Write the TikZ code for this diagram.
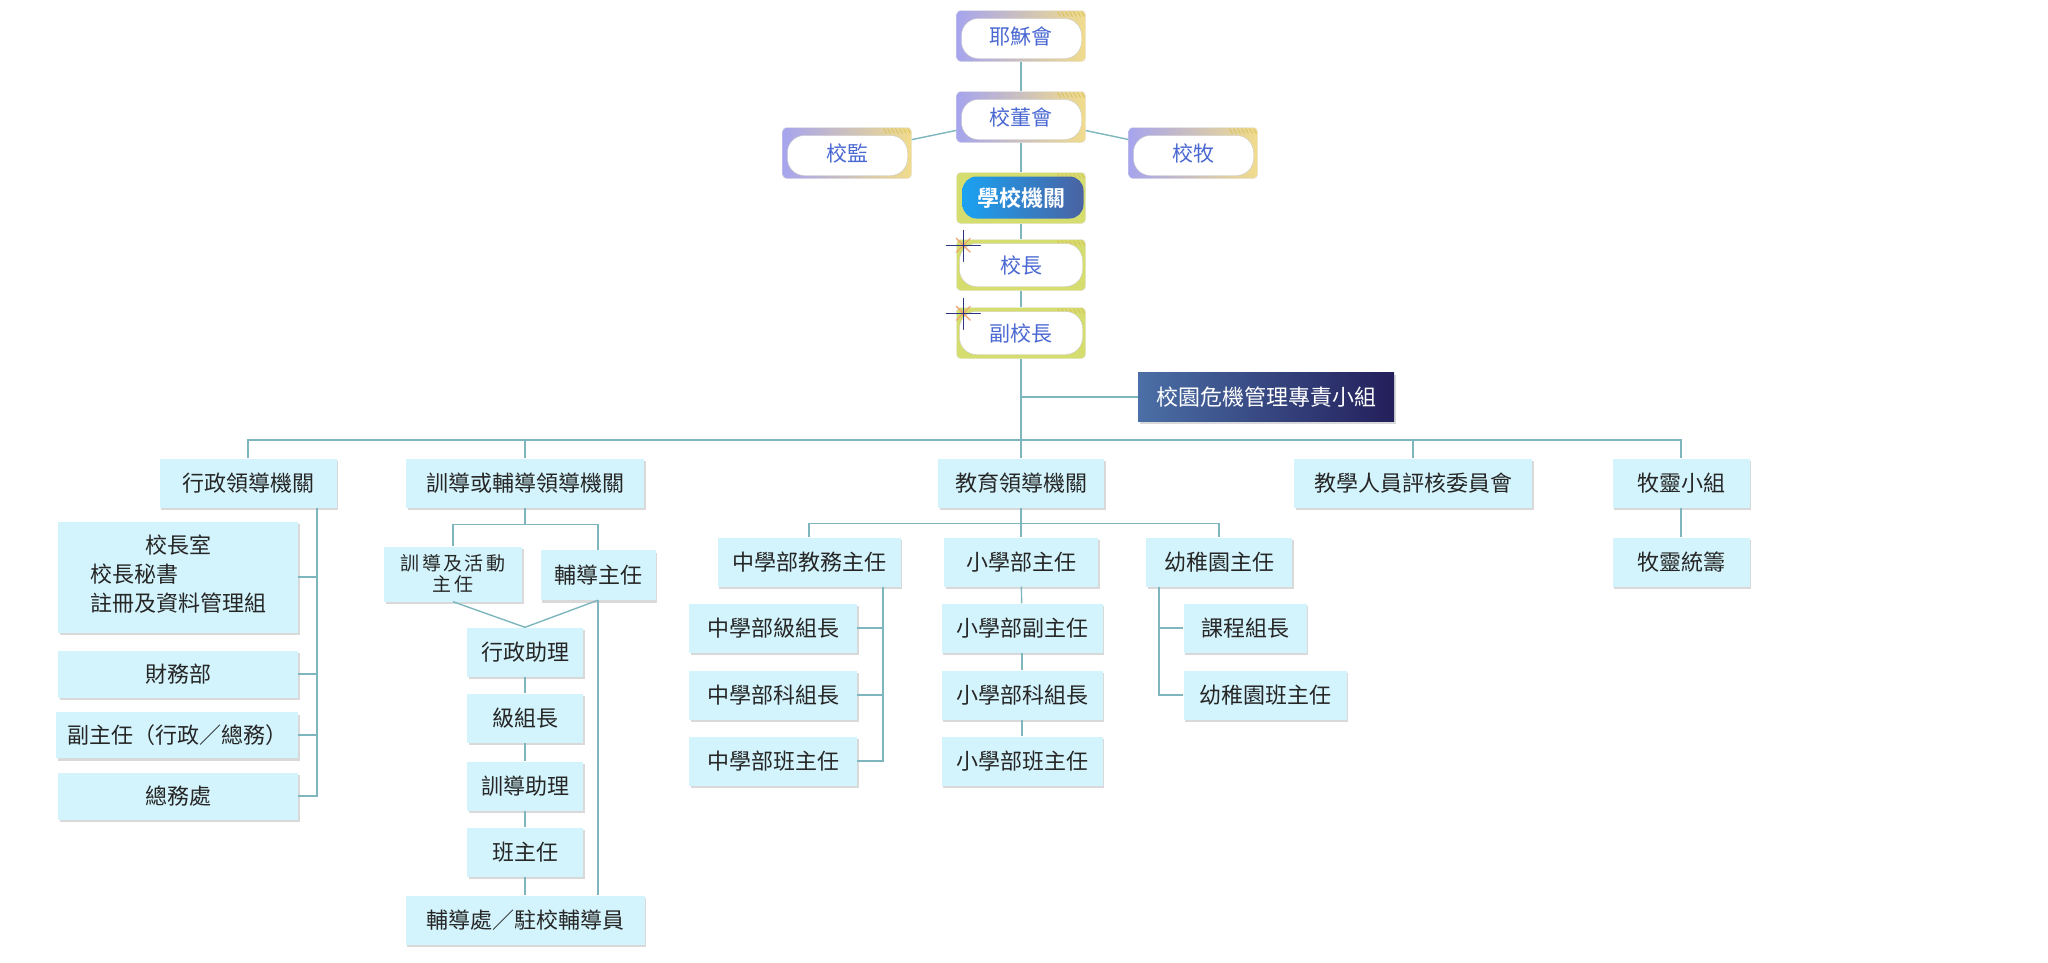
\documentclass[tikz,border=0pt]{standalone}
\usepackage{fontspec}
\usepackage{tikz}
\usetikzlibrary{shadows}
\newfontfamily\cjk[BoldFont={Noto Sans CJK TC Bold}]{Noto Sans CJK TC}

\definecolor{linkcol}{HTML}{7DB6BC}
\definecolor{boxcol}{HTML}{D3F4FC}
\definecolor{lavender}{HTML}{A6A4EE}
\definecolor{sand}{HTML}{F1DC8C}
\definecolor{hatch}{HTML}{D9C25A}
\definecolor{lime}{HTML}{D5DD6E}
\definecolor{titleblue}{HTML}{4A68D2}
\definecolor{skyblue}{HTML}{1AA2F2}
\definecolor{paleyellow}{HTML}{C9D88E}
\definecolor{steel}{HTML}{4A62A2}
\definecolor{crisisl}{HTML}{4B6FA6}
\definecolor{crisism}{HTML}{4767C9}
\definecolor{crisisr}{HTML}{231F5B}
\definecolor{starblue}{HTML}{2A3480}
\definecolor{starorange}{HTML}{F0A070}

\begin{document}
\begin{tikzpicture}[x=1pt,y=-1pt,
    every node/.style={font=\cjk\fontsize{22}{29}\selectfont},
    link/.style={draw=linkcol,line width=1.4pt},
    corner/.code={\foreach \i in {0,...,6}
        \draw[hatch,line width=0.8pt] ([shift={(-28pt+4*\i pt,-1pt)}]path picture bounding box.north east) -- ++(3pt,-5pt);},
    pill/.style={rectangle,rounded corners=4pt,minimum width=129pt,minimum height=51pt,
        inner sep=0pt,text=titleblue,draw=black!12,font=\cjk\fontsize{21}{25}\selectfont},
    church/.style={pill,left color=lavender,right color=sand,
        path picture={\tikzset{corner}\fill[white,draw=black!20,rounded corners=17pt]
            ([shift={(5pt,3pt)}]path picture bounding box.south west) rectangle
            ([shift={(-4pt,-8pt)}]path picture bounding box.north east);}},
    head/.style={pill,fill=lime,
        path picture={\tikzset{corner}\fill[white,draw=black!20,rounded corners=17pt]
            ([shift={(3pt,4pt)}]path picture bounding box.south west) rectangle
            ([shift={(-3pt,-4pt)}]path picture bounding box.north east);}},
    banner/.style={pill,fill=lime,text=white,font=\cjk\bfseries\fontsize{22}{26}\selectfont,
        path picture={\tikzset{corner}\shade[left color=skyblue,middle color=paleyellow,right color=steel,rounded corners=14pt]
            ([shift={(6pt,5pt)}]path picture bounding box.south west) rectangle
            ([shift={(-2pt,-4pt)}]path picture bounding box.north east);}},
    unit/.style={rectangle,fill=boxcol,inner sep=0pt,minimum height=49pt,text=black!85,
        drop shadow={shadow xshift=1.5pt,shadow yshift=-2.5pt,fill=black!25,opacity=0.6}},
    taskforce/.style={rectangle,inner sep=0pt,minimum width=256pt,minimum height=49pt,text=white,
        left color=crisisl,middle color=crisism,right color=crisisr,
        drop shadow={shadow xshift=1.5pt,shadow yshift=-2.5pt,fill=black!25,opacity=0.6}}
]
\useasboundingbox (0,0) rectangle (2048,962);

% Governing bodies (absolute positions, px)
\node[church] (jesuit)     at (1021,36)  {耶穌會};
\node[church] (board)      at (1021,117) {校董會};
\node[church] (supervisor) at (847,153)  {校監};
\node[church] (chaplain)   at (1193,153) {校牧};
\node[banner] (organ)      at (1021,198) {學校機關};
\node[head]   (principal)  at (1021,265) {校長};
\node[head]   (vice)       at (1021,333) {副校長};
\node[taskforce] (crisis)  at (1266,397) {校園危機管理專責小組};
\coordinate (bus) at (1021,440);

% sparkles on the heads
\foreach \b in {principal,vice} {
    \coordinate (\b-star) at ([xshift=7pt,yshift=-6pt]\b.north west);
    \draw[starorange,line width=1.2pt,line cap=round] (\b-star) ++(-7,-7) -- ++(14,14) (\b-star) ++(-7,7) -- ++(14,-14);
    \draw[starblue,line width=1pt,line cap=round] (\b-star) ++(-17,0) -- ++(34,0) (\b-star) ++(0,-15) -- ++(0,31);
}

% Second row
\node[unit,minimum width=177pt] (admin)    at (248,483)  {行政領導機關};
\node[unit,minimum width=238pt] (guide)    at (525,483)  {訓導或輔導領導機關};
\node[unit,minimum width=166pt] (edu)      at (1021,483) {教育領導機關};
\node[unit,minimum width=238pt] (review)   at (1413,483) {教學人員評核委員會};
\node[unit,minimum width=137pt] (pastoral) at (1681,483) {牧靈小組};

% Administration column
\node[unit,minimum width=240pt,minimum height=111pt] (office) at (178,577)
    {\begin{tabular}{@{}l@{}}\multicolumn{1}{@{}c@{}}{校長室}\\ 校長秘書\\ 註冊及資料管理組\end{tabular}};
\node[unit,minimum width=240pt,minimum height=47pt] (finance) at (178,674) {財務部};
\node[unit,minimum width=242pt,minimum height=46pt] (deputy)  at (177,735) {副主任（行政／總務）};
\node[unit,minimum width=240pt,minimum height=47pt] (general) at (178,796) {總務處};

% Discipline / guidance column
\node[unit,minimum width=138pt,minimum height=55pt,align=center,
      font=\cjk\fontsize{19}{21}\selectfont\addfontfeature{LetterSpace=12}] (discipline) at (453,574) {訓導及活動\\主任};
\node[unit,minimum width=115pt,minimum height=50pt] (counsel)  at (598,575) {輔導主任};
\node[unit,minimum width=116pt] (aide)          at (525,652) {行政助理};
\node[unit,minimum width=116pt] (gradehead)     at (525,718) {級組長};
\node[unit,minimum width=116pt] (discaide)      at (525,786) {訓導助理};
\node[unit,minimum width=116pt] (formtutor)     at (525,852) {班主任};
\node[unit,minimum width=239pt] (counselcentre) at (525,920) {輔導處／駐校輔導員};

% Education column
\node[unit,minimum width=183pt] (secdir)    at (809,562)  {中學部教務主任};
\node[unit,minimum width=154pt] (pridir)    at (1021,562) {小學部主任};
\node[unit,minimum width=146pt] (kgdir)     at (1219,562) {幼稚園主任};
\node[unit,minimum width=168pt] (secgrade)  at (773,628)  {中學部級組長};
\node[unit,minimum width=168pt] (secsubj)   at (773,695)  {中學部科組長};
\node[unit,minimum width=168pt] (secclass)  at (773,761)  {中學部班主任};
\node[unit,minimum width=161pt] (prideputy) at (1022,628) {小學部副主任};
\node[unit,minimum width=161pt] (prisubj)   at (1022,695) {小學部科組長};
\node[unit,minimum width=161pt] (priclass)  at (1022,761) {小學部班主任};
\node[unit,minimum width=123pt] (kgcourse)  at (1245,628) {課程組長};
\node[unit,minimum width=163pt] (kgclass)   at (1265,695) {幼稚園班主任};

% Pastoral column
\node[unit,minimum width=137pt] (ministry) at (1681,562) {牧靈統籌};

% Top connections
\draw[link] (jesuit) -- (board);
\draw[link] (board) -- (supervisor);
\draw[link] (board) -- (chaplain);
\draw[link] (board) -- (organ);
\draw[link] (organ) -- (principal);
\draw[link] (principal) -- (vice);
\draw[link] (vice) -- (edu);
\draw[link] (crisis.west) -- (crisis.west -| vice.south);
\draw[link] (admin.north) |- (bus) -| (pastoral.north);
\foreach \n in {guide,review} \draw[link] (\n.north) -- (\n.north |- bus);

% Branches
\foreach \n in {office,finance,deputy,general} \draw[link] ([xshift=69pt]admin.south) |- (\n.east);
\draw[link] (guide.south) -- ++(0,17) -| (discipline.north);
\draw[link] (guide.south) -- ++(0,17) -| (counsel.north);
\draw[link] (discipline.south) -- (aide.north);
\draw[link] (counsel.south) -- (aide.north);
\draw[link] (counsel.south) -- (counsel.south |- counselcentre.north);
\foreach \a/\b in {aide/gradehead,gradehead/discaide,discaide/formtutor,formtutor/counselcentre}
    \draw[link] (\a) -- (\b);
\draw[link] (edu.south) -- ++(0,16) -| (secdir.north);
\draw[link] (edu.south) -- ++(0,16) -| (kgdir.north);
\draw[link] (edu) -- (pridir);
\foreach \n in {secgrade,secsubj,secclass} \draw[link] ([xshift=74pt]secdir.south) |- (\n.east);
\foreach \a/\b in {pridir/prideputy,prideputy/prisubj,prisubj/priclass} \draw[link] (\a) -- (\b);
\foreach \n in {kgcourse,kgclass} \draw[link] ([xshift=-60pt]kgdir.south) |- (\n.west);
\draw[link] (pastoral) -- (ministry);

\end{tikzpicture}
\end{document}
